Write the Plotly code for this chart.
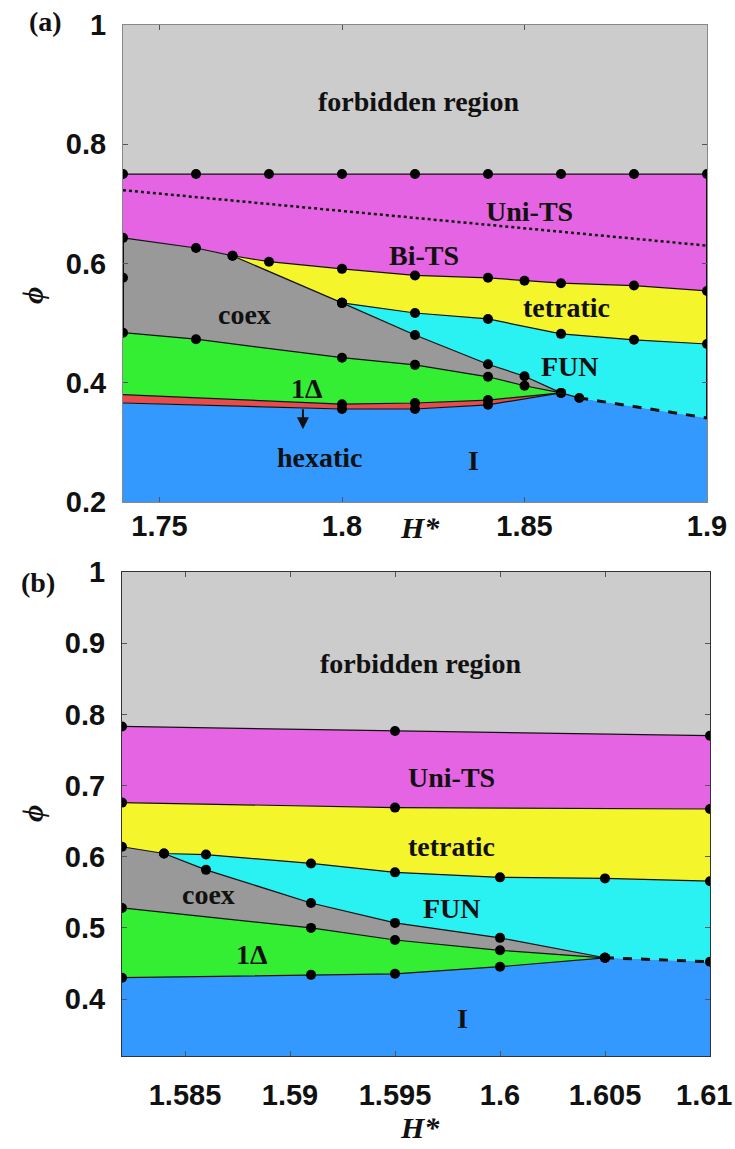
import plotly.graph_objects as go

# ---------------- panel (a): H* from 1.74 to 1.90 ----------------
a_top_h = [1.74, 1.76, 1.78, 1.80, 1.82, 1.84, 1.86, 1.88, 1.90]
a_top_phi = [0.75, 0.75, 0.75, 0.75, 0.75, 0.75, 0.75, 0.75, 0.75]

a_unibi_h = [1.74, 1.90]
a_unibi_phi = [0.723, 0.630]

a_ts_low_h = [1.74, 1.76, 1.77, 1.78, 1.80, 1.82, 1.84, 1.85, 1.86, 1.88, 1.90]
a_ts_low_phi = [0.643, 0.626, 0.613, 0.603, 0.591, 0.580, 0.576, 0.571, 0.567, 0.563, 0.554]

a_coex_tet_h = [1.77, 1.80]
a_coex_tet_phi = [0.613, 0.534]

a_tet_fun_h = [1.80, 1.82, 1.84, 1.86, 1.88, 1.90]
a_tet_fun_phi = [0.534, 0.517, 0.507, 0.482, 0.472, 0.465]

a_coex_fun_h = [1.80, 1.82, 1.84, 1.85, 1.86]
a_coex_fun_phi = [0.534, 0.480, 0.431, 0.411, 0.383]

a_coex_1d_h = [1.74, 1.76, 1.80, 1.82, 1.84, 1.85, 1.86]
a_coex_1d_phi = [0.484, 0.473, 0.442, 0.430, 0.410, 0.395, 0.383]

a_1d_hex_h = [1.74, 1.80, 1.82, 1.84, 1.86]
a_1d_hex_phi = [0.380, 0.364, 0.366, 0.371, 0.383]

a_hex_iso_h = [1.74, 1.80, 1.82, 1.84, 1.86]
a_hex_iso_phi = [0.366, 0.356, 0.356, 0.363, 0.383]

a_fun_iso_h = [1.86, 1.865]
a_fun_iso_phi = [0.383, 0.3745]

a_fun_iso_ext_h = [1.865, 1.90]
a_fun_iso_ext_phi = [0.3745, 0.341]

a_edge_h = [1.74]
a_edge_phi = [0.576]

a_xticks = [1.75, 1.80, 1.85, 1.90]
a_xticktext = ["1.75", "1.8", "1.85", "1.9"]
a_yticks = [0.2, 0.4, 0.6, 0.8, 1.0]
a_yticktext = ["0.2", "0.4", "0.6", "0.8", "1"]
a_xrange = [1.74, 1.90]
a_yrange = [0.2, 1.0]

# ---------------- panel (b): H* from 1.582 to 1.61 ----------------
b_top_h = [1.582, 1.595, 1.61]
b_top_phi = [0.783, 0.7765, 0.770]

b_uni_tet_h = [1.582, 1.595, 1.61]
b_uni_tet_phi = [0.676, 0.669, 0.667]

b_tet_low_h = [1.582, 1.584, 1.586, 1.591, 1.595, 1.600, 1.605, 1.61]
b_tet_low_phi = [0.614, 0.6045, 0.603, 0.5905, 0.578, 0.571, 0.5695, 0.5656]

b_coex_fun_h = [1.584, 1.586, 1.591, 1.595, 1.600, 1.605]
b_coex_fun_phi = [0.6045, 0.5815, 0.535, 0.507, 0.486, 0.458]

b_coex_1d_h = [1.582, 1.591, 1.595, 1.600, 1.605]
b_coex_1d_phi = [0.528, 0.500, 0.483, 0.4685, 0.458]

b_1d_iso_h = [1.582, 1.591, 1.595, 1.600, 1.605]
b_1d_iso_phi = [0.430, 0.434, 0.4355, 0.4455, 0.458]

b_fun_iso_h = [1.605, 1.61]
b_fun_iso_phi = [0.458, 0.4525]

b_xticks = [1.585, 1.59, 1.595, 1.60, 1.605, 1.61]
b_xticktext = ["1.585", "1.59", "1.595", "1.6", "1.605", "1.61"]
b_yticks = [0.4, 0.5, 0.6, 0.7, 0.8, 0.9, 1.0]
b_yticktext = ["0.4", "0.5", "0.6", "0.7", "0.8", "0.9", "1"]
b_xrange = [1.582, 1.61]
b_yrange = [0.32, 1.0]

# region colours
C_FORBID = "#cccccc"
C_TS = "#e564e3"
C_TET = "#f5f52c"
C_FUN = "#2af2f2"
C_COEX = "#999999"
C_1D = "#33ee33"
C_HEX = "#e64c4c"
C_ISO = "#3399ff"
C_LINE = "#111111"

SERIF = "Liberation Serif"
SANS = "Liberation Sans"

W, H = 735, 1149

fig = go.Figure()


def seg(xs, ys, lo=None, hi=None):
    """Part of a boundary between two H* values (inclusive)."""
    pts = [(x, y) for x, y in zip(xs, ys)
           if (lo is None or x >= lo - 1e-9) and (hi is None or x <= hi + 1e-9)]
    return [p[0] for p in pts], [p[1] for p in pts]


def rev(xs, ys):
    return list(reversed(xs)), list(reversed(ys))


def region(parts, color, xa, ya):
    xs, ys = [], []
    for px, py in parts:
        xs += list(px)
        ys += list(py)
    fig.add_trace(go.Scatter(x=xs, y=ys, fill="toself", fillcolor=color, mode="lines",
                             line=dict(width=0), hoverinfo="skip", xaxis=xa, yaxis=ya))


def boundary(xs, ys, xa, ya, dash="solid", width=1.2, marks=True, mark_at=None):
    fig.add_trace(go.Scatter(x=xs, y=ys, mode="lines", line=dict(color=C_LINE, width=width, dash=dash),
                             hoverinfo="skip", xaxis=xa, yaxis=ya))
    if marks:
        if mark_at is None:
            mx, my = xs, ys
        else:
            sel = [(x, y) for x, y in zip(xs, ys) if any(abs(x - m) < 1e-9 for m in mark_at)]
            mx, my = [p[0] for p in sel], [p[1] for p in sel]
        fig.add_trace(go.Scatter(x=mx, y=my, mode="markers", marker=dict(color="black", size=10),
                                 hoverinfo="skip", xaxis=xa, yaxis=ya))


# ---------- panel (a) regions ----------
XA, YA = "x", "y"
a_x0, a_x1 = a_xrange
a_y0, a_y1 = a_yrange
region([(a_top_h, a_top_phi), ([a_x1, a_x0], [a_y1, a_y1])], C_FORBID, XA, YA)
region([(a_top_h, a_top_phi), rev(a_ts_low_h, a_ts_low_phi)], C_TS, XA, YA)
region([seg(a_ts_low_h, a_ts_low_phi, lo=a_coex_tet_h[0]), rev(a_tet_fun_h, a_tet_fun_phi),
        rev(a_coex_tet_h, a_coex_tet_phi)], C_TET, XA, YA)
region([seg(a_ts_low_h, a_ts_low_phi, hi=a_coex_tet_h[0]), (a_coex_tet_h, a_coex_tet_phi),
        (a_coex_fun_h, a_coex_fun_phi), rev(a_coex_1d_h, a_coex_1d_phi)], C_COEX, XA, YA)
region([(a_tet_fun_h, a_tet_fun_phi), rev(a_fun_iso_ext_h, a_fun_iso_ext_phi),
        rev(a_fun_iso_h, a_fun_iso_phi), rev(a_coex_fun_h, a_coex_fun_phi)], C_FUN, XA, YA)
region([(a_coex_1d_h, a_coex_1d_phi), rev(a_1d_hex_h, a_1d_hex_phi)], C_1D, XA, YA)
region([(a_1d_hex_h, a_1d_hex_phi), rev(a_hex_iso_h, a_hex_iso_phi)], C_HEX, XA, YA)
region([(a_hex_iso_h, a_hex_iso_phi), (a_fun_iso_h, a_fun_iso_phi), (a_fun_iso_ext_h, a_fun_iso_ext_phi),
        ([a_x1, a_x0], [a_y0, a_y0])], C_ISO, XA, YA)

# panel (a) edges and boundaries
boundary([a_x0, a_x0], [a_ts_low_phi[0], a_coex_1d_phi[0]], XA, YA, width=2, marks=False)
boundary([a_x1, a_x1], [a_top_phi[-1], a_fun_iso_ext_phi[-1]], XA, YA, width=2, marks=False)
boundary(a_top_h, a_top_phi, XA, YA)
boundary(a_unibi_h, a_unibi_phi, XA, YA, dash="dot", width=2.5, marks=False)
boundary(a_ts_low_h, a_ts_low_phi, XA, YA)
boundary(a_coex_tet_h, a_coex_tet_phi, XA, YA)
boundary(a_tet_fun_h, a_tet_fun_phi, XA, YA)
boundary(a_coex_fun_h, a_coex_fun_phi, XA, YA)
boundary(a_coex_1d_h, a_coex_1d_phi, XA, YA)
boundary(a_1d_hex_h, a_1d_hex_phi, XA, YA, mark_at=[1.80, 1.82, 1.84])
boundary(a_hex_iso_h, a_hex_iso_phi, XA, YA, mark_at=[1.80, 1.82, 1.84])
boundary(a_fun_iso_h, a_fun_iso_phi, XA, YA, mark_at=[1.865])
boundary(a_fun_iso_ext_h, a_fun_iso_ext_phi, XA, YA, dash="dash", width=3, marks=False)
fig.add_trace(go.Scatter(x=a_edge_h, y=a_edge_phi, mode="markers", marker=dict(color="black", size=10),
                         hoverinfo="skip", xaxis=XA, yaxis=YA))

# ---------- panel (b) regions ----------
XB, YB = "x2", "y2"
b_x0, b_x1 = b_xrange
b_y0, b_y1 = b_yrange
region([(b_top_h, b_top_phi), ([b_x1, b_x0], [b_y1, b_y1])], C_FORBID, XB, YB)
region([(b_top_h, b_top_phi), rev(b_uni_tet_h, b_uni_tet_phi)], C_TS, XB, YB)
region([(b_uni_tet_h, b_uni_tet_phi), rev(b_tet_low_h, b_tet_low_phi)], C_TET, XB, YB)
region([seg(b_tet_low_h, b_tet_low_phi, hi=b_coex_fun_h[0]), (b_coex_fun_h, b_coex_fun_phi),
        rev(b_coex_1d_h, b_coex_1d_phi)], C_COEX, XB, YB)
region([seg(b_tet_low_h, b_tet_low_phi, lo=b_coex_fun_h[0]), rev(b_fun_iso_h, b_fun_iso_phi),
        rev(b_coex_fun_h, b_coex_fun_phi)], C_FUN, XB, YB)
region([(b_coex_1d_h, b_coex_1d_phi), rev(b_1d_iso_h, b_1d_iso_phi)], C_1D, XB, YB)
region([(b_1d_iso_h, b_1d_iso_phi), (b_fun_iso_h, b_fun_iso_phi), ([b_x1, b_x0], [b_y0, b_y0])],
       C_ISO, XB, YB)

boundary(b_top_h, b_top_phi, XB, YB)
boundary(b_uni_tet_h, b_uni_tet_phi, XB, YB)
boundary(b_tet_low_h, b_tet_low_phi, XB, YB)
boundary(b_coex_fun_h, b_coex_fun_phi, XB, YB)
boundary(b_coex_1d_h, b_coex_1d_phi, XB, YB)
boundary(b_1d_iso_h, b_1d_iso_phi, XB, YB)
boundary(b_fun_iso_h, b_fun_iso_phi, XB, YB, dash="dash", width=3)

# ---------- labels ----------
LAB = dict(family=SERIF, size=28, color="#111111", weight="bold")


def label(x, y, text, xa, ya, **kw):
    fig.add_annotation(x=x, y=y, text=text, xref=xa, yref=ya, showarrow=False, font=LAB,
                       xanchor="center", yanchor="middle", **kw)


label(1.821, 0.871, "forbidden region", XA, YA)
label(1.8515, 0.687, "Uni-TS", XA, YA)
label(1.8225, 0.614, "Bi-TS", XA, YA)
label(1.7734, 0.515, "coex", XA, YA)
label(1.8616, 0.526, "tetratic", XA, YA)
label(1.8625, 0.428, "FUN", XA, YA)
label(1.7904, 0.391, "1Δ", XA, YA)
label(1.794, 0.274, "hexatic", XA, YA)
label(1.836, 0.270, "I", XA, YA)
fig.add_annotation(x=1.7893, y=0.322, ax=1.7893, ay=0.358, xref=XA, yref=YA, axref=XA, ayref=YA,
                   text="", showarrow=True, arrowhead=2, arrowsize=1.2, arrowwidth=2, arrowcolor="#111111")

label(1.5962, 0.872, "forbidden region", XB, YB)
label(1.5977, 0.711, "Uni-TS", XB, YB)
label(1.5977, 0.614, "tetratic", XB, YB)
label(1.5977, 0.527, "FUN", XB, YB)
label(1.5861, 0.547, "coex", XB, YB)
label(1.5882, 0.463, "1Δ", XB, YB)
label(1.5982, 0.372, "I", XB, YB)


def paper_text(px, py, text, font, **kw):
    opts = dict(xanchor="center", yanchor="middle")
    opts.update(kw)
    fig.add_annotation(x=px / W, y=1 - py / H, xref="paper", yref="paper", text=text, showarrow=False,
                       font=font, **opts)


TITLE = dict(family=SERIF, size=30, color="#111111", weight="bold", style="italic")
PANEL = dict(family=SERIF, size=28, color="#111111", weight="bold")
TICKF = dict(family=SANS, size=29, color="#111111", weight="bold")

paper_text(420, 527, "H*", TITLE)
paper_text(420, 1127, "H*", TITLE)
paper_text(32, 295, "ϕ", TITLE, textangle=-90)
paper_text(32, 813, "ϕ", TITLE, textangle=-90)
paper_text(45, 22, "(a)", PANEL)
paper_text(38, 582, "(b)", PANEL)

# last tick label of panel (b) is pinned to the right edge of the page
paper_text(734, 1095, b_xticktext[-1], TICKF, xanchor="right")

# ---------- axes ----------
common = dict(showgrid=False, zeroline=False, showline=True, mirror="ticks", ticks="inside",
              ticklen=5, tickcolor="#555555", tickfont=TICKF, automargin=False)

fig.update_layout(
    width=W, height=H, margin=dict(l=0, r=0, t=0, b=0, pad=0, autoexpand=False),
    paper_bgcolor="white", plot_bgcolor="white", showlegend=False,
    xaxis=dict(domain=[123 / W, 707 / W], range=a_xrange, tickvals=a_xticks, ticktext=a_xticktext,
               anchor="y", linecolor="#888888", ticklabelstandoff=-2, **common),
    yaxis=dict(domain=[1 - 502 / H, 1 - 25 / H], range=a_yrange, tickvals=a_yticks,
               ticktext=a_yticktext, anchor="x", linecolor="#888888", ticklabelstandoff=10, **common),
    xaxis2=dict(domain=[122 / W, 710 / W], range=b_xrange, tickvals=b_xticks[:-1],
                ticktext=b_xticktext[:-1], anchor="y2", linecolor="#333333", ticklabelstandoff=13, **common),
    yaxis2=dict(domain=[1 - 1056 / H, 1 - 572 / H], range=b_yrange, tickvals=b_yticks,
                ticktext=b_yticktext, anchor="x2", linecolor="#333333", ticklabelstandoff=10, **common),
)

fig.write_html("out.html")
